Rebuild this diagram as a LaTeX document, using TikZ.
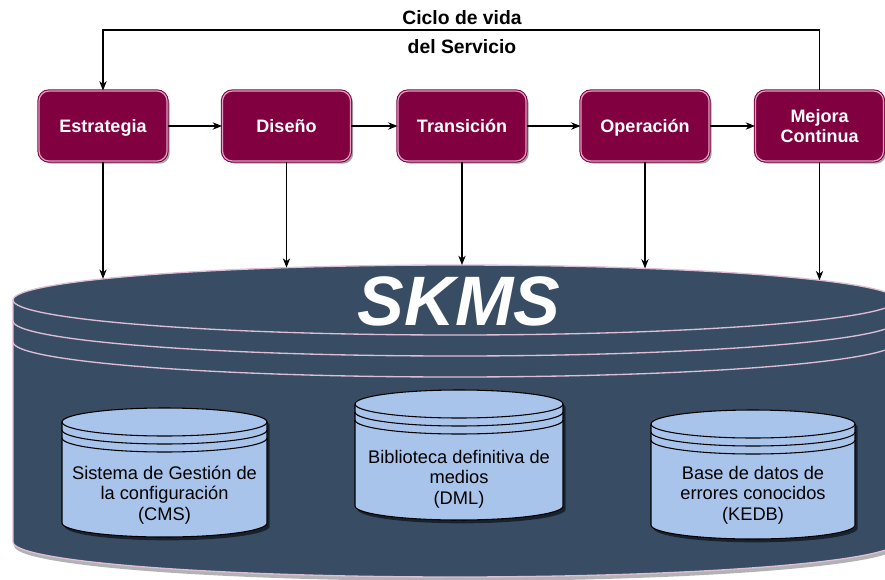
\documentclass[tikz,border=0pt]{standalone}
\usepackage{fontspec}
\setmainfont{Liberation Sans}
\usetikzlibrary{arrows.meta,shadows}
\definecolor{maroon}{RGB}{128,0,64}
\definecolor{maroonpink}{RGB}{225,160,195}
\definecolor{skms}{RGB}{56,77,99}
\definecolor{skmsline}{RGB}{222,190,215}
\definecolor{dbfill}{RGB}{169,196,235}
\newcommand\dbshape[4]{%
  \path[dbbody] ({#1-#2},#3) arc[start angle=180,end angle=360,x radius=#2,y radius=14]
     -- ({#1+#2},#4) arc[start angle=0,end angle=180,x radius=#2,y radius=14] -- cycle;
  \draw[dbline] ({#1-#2},#3) arc[start angle=180,end angle=0,x radius=#2,y radius=14];
  \draw[dbline] ({#1-#2},{#3+8}) arc[start angle=180,end angle=0,x radius=#2,y radius=14];
  \draw[dbline] ({#1-#2},{#3+16}) arc[start angle=180,end angle=0,x radius=#2,y radius=14];
}
\begin{document}
\begin{tikzpicture}[x=0.75pt,y=-0.75pt,
  stage/.style={rectangle, rounded corners=7.5pt, fill=maroon, draw=maroon,
    double=maroonpink, double distance=0.9pt, line width=0.8pt,
    minimum width=96pt, minimum height=52.5pt, text=white, inner sep=1pt,
    font=\fontsize{13.5pt}{15.5pt}\selectfont\bfseries, align=center, text depth=0pt,
    drop shadow={shadow xshift=2pt, shadow yshift=-2pt, opacity=0.35, fill=black}},
  arr/.style={draw=black, line width=0.8pt, -{Stealth[length=7pt,width=5.5pt]}},
  dbbody/.style={fill=dbfill, draw=black, line width=0.8pt,
    drop shadow={shadow xshift=2pt, shadow yshift=-2.5pt, opacity=0.55, fill=black}},
  dbline/.style={draw=black, line width=0.8pt},
  dbtext/.style={font=\fontsize{13.7pt}{15.5pt}\selectfont, align=center, text=black},
  skmsarc/.style={draw=skmsline, line width=1pt}
]
\useasboundingbox (0,0) rectangle (885,579);

% big SKMS cylinder
\path[fill=skms, draw=skmsline, line width=1pt,
      drop shadow={shadow xshift=1pt, shadow yshift=-3pt, opacity=0.3, fill=black}]
  (13,300) arc[start angle=180,end angle=360,x radius=442,y radius=35]
  -- (897,542) arc[start angle=0,end angle=180,x radius=442,y radius=35] -- cycle;
\draw[skmsarc] (13,300) arc[start angle=180,end angle=0,x radius=442,y radius=35];
\draw[skmsarc] (13,321) arc[start angle=180,end angle=0,x radius=442,y radius=35];
\draw[skmsarc] (13,342) arc[start angle=180,end angle=0,x radius=442,y radius=35];
\node[text=white, font=\fontsize{52.5pt}{60pt}\selectfont\bfseries\itshape, inner sep=0pt] (skms) at (459,301) {SKMS};

% small databases
\dbshape{164.5}{102.5}{422}{523}
\dbshape{459}{104}{404}{506}
\dbshape{753}{102}{424}{525}
\node[dbtext] (cms) at (164.5,495) {Sistema de Gestión de\\la configuración\\(CMS)};
\node[dbtext] (dml) at (459,479) {Biblioteca definitiva de\\medios\\(DML)};
\node[dbtext] (kedb) at (753,495) {Base de datos de\\errores conocidos\\(KEDB)};

% lifecycle stages
\node[stage] (est) at (103,126) {Estrategia};
\node[stage] (dis) at (286.5,126) {Diseño};
\node[stage] (tra) at (462,126) {Transición};
\node[stage] (ope) at (645,126) {Operación};
\node[stage] (mej) at (819.5,126) {Mejora\\Continua};

\draw[arr] (est) -- (dis);
\draw[arr] (dis) -- (tra);
\draw[arr] (tra) -- (ope);
\draw[arr] (ope) -- (mej);

% feedback loop
\coordinate (tr) at (819.5,30);
\coordinate (tl) at (103,30);
\draw[arr] (mej.north) -- (tr) -- (tl) -- (est.north);
\node[font=\fontsize{14.5pt}{21.75pt}\selectfont\bfseries, align=center, inner sep=0pt] (lbl) at (462,32.5) {Ciclo de vida\\del Servicio};

% arrows into SKMS
\coordinate (e1) at (103,278.8);
\coordinate (e2) at (286.5,267.6);
\coordinate (e3) at (462,265);
\coordinate (e4) at (645,268.4);
\coordinate (e5) at (819.5,280.2);
\draw[arr] (est.south) -- (e1);
\draw[arr] (dis.south) -- (e2);
\draw[arr] (tra.south) -- (e3);
\draw[arr] (ope.south) -- (e4);
\draw[arr] (mej.south) -- (e5);
\end{tikzpicture}
\end{document}
